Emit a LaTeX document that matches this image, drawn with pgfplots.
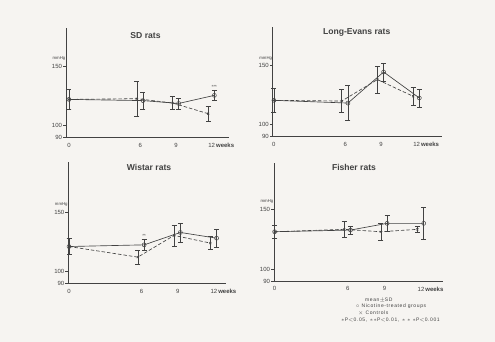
\documentclass[border=0pt]{standalone}
\usepackage{fontspec}
\setmainfont{Liberation Sans}
\newfontfamily\spaced[LetterSpace=12]{Liberation Sans}
\usepackage{pgfplots}
\pgfplotsset{compat=1.18}

\definecolor{ink}{RGB}{66,66,66}
\definecolor{paper}{RGB}{246,244,241}

% blood pressure (mmHg, mean +- SD); controls plotted slightly left of the
% week, nicotine-treated groups slightly right
\pgfplotstableread{
x     y      e
0     122.0  8.4
5.7   122.6  15.0
8.7   119.0  5.3
11.7  110.0  6.0
}\sdctrl
\pgfplotstableread{
x     y      e
0     122.0  8.4
6.22  121.0  7.0
9.22  118.6  4.5
12.22 125.4  4.0
}\sdnic
\pgfplotstableread{
x     y      e
0     120.5  9.8
5.7   119.9  9.6
8.7   138.0  11.2
11.7  123.9  7.4
}\lectrl
\pgfplotstableread{
x     y      e
0     120.5  9.8
6.22  118.2  14.8
9.22  144.4  7.7
12.22 122.5  7.6
}\lenic
\pgfplotstableread{
x     y      e
0     121.1  6.6
5.7   112.2  5.6
8.7   130.4  8.7
11.7  124.0  5.6
}\wictrl
\pgfplotstableread{
x     y      e
0     121.1  6.6
6.22  122.5  4.5
9.22  132.9  8.1
12.22 128.1  7.8
}\winic
\pgfplotstableread{
x     y      e
0     131.3  5.3
5.7   133.3  6.4
8.7   131.3  7.4
11.7  133.3  2.2
}\fictrl
\pgfplotstableread{
x     y      e
0     131.3  5.3
6.22  132.7  3.5
9.22  138.3  6.4
12.22 138.3  13.2
}\finic

\pgfplotsset{
  ratpanel/.style={
    scale only axis, anchor=south west, clip=false,
    ymin=90,
    axis x line=bottom, axis y line=left,
    axis line style={-, ink, line width=1pt},
    xtick={0,6,9,12},
    xticklabels={0,6,9,{12\rlap{\,\textbf{weeks}}}},
    ytick={90,100,150},
    tick align=outside, major tick length=2.8pt,
    xtick style={draw=none},
    ytick style={ink, line width=0.6pt},
    tick label style={font=\fontsize{6}{7}\selectfont, text=ink},
    yticklabel style={inner xsep=1pt},
    xticklabel style={inner ysep=2.5pt},
    /pgf/number format/assume math mode=true,
  },
  ctrl/.style={ink, line width=0.65pt, dash pattern=on 3.5pt off 2pt,
    mark=x, mark size=1.4pt, mark options={solid, line width=0.6pt},
    error bars/.cd, y dir=both, y explicit,
    error bar style={ink, line width=0.5pt, solid},
    error mark options={rotate=90, mark size=2.5pt, ink, line width=0.5pt, solid}},
  nic/.style={ink, line width=0.65pt,
    mark=o, mark size=2pt, mark options={fill=paper, line width=0.5pt},
    error bars/.cd, y dir=both, y explicit,
    error bar style={ink, line width=0.5pt},
    error mark options={rotate=90, mark size=2.5pt, ink, line width=0.5pt}},
}

\newcommand\mmhg{\node[anchor=south east, inner sep=0.5pt, text=ink,
  font=\fontsize{4.3}{5}\selectfont] at (axis cs:\pgfkeysvalueof{/pgfplots/xmin},154) {mmHg};}

\begin{document}
\begin{tikzpicture}
\fill[paper] (0pt,0pt) rectangle (495pt,342pt);

% SD rats
\begin{axis}[ratpanel, at={(66pt,204.5pt)}, width=163pt, height=109.5pt,
  xmin=-0.25, xmax=13.45, ymax=182]
  \addplot[ctrl] table[x=x, y=y, y error=e] {\sdctrl};
  \addplot[nic] table[x=x, y=y, y error=e] {\sdnic};
  \mmhg
  \node[text=ink, font=\fontsize{4.5}{5}\selectfont, inner sep=0pt] at (axis cs:12.22,132.3) {***};
\end{axis}

% Long-Evans rats
\begin{axis}[ratpanel, at={(272.7pt,205.5pt)}, width=169pt, height=109.8pt,
  xmin=-0.1, xmax=14.1, ymax=182.6]
  \addplot[ctrl] table[x=x, y=y, y error=e] {\lectrl};
  \addplot[nic] table[x=x, y=y, y error=e] {\lenic};
  \mmhg
\end{axis}

% Wistar rats
\begin{axis}[ratpanel, at={(68.3pt,58.4pt)}, width=157.7pt, height=121.6pt,
  xmin=-0.06, xmax=13.0, ymax=192]
  \addplot[ctrl] table[x=x, y=y, y error=e] {\wictrl};
  \addplot[nic] table[x=x, y=y, y error=e] {\winic};
  \mmhg
  \node[text=ink, font=\fontsize{4.5}{5}\selectfont, inner sep=0pt] at (axis cs:6.22,129.8) {**};
\end{axis}

% Fisher rats
\begin{axis}[ratpanel, at={(274pt,60.7pt)}, width=169pt, height=118.3pt,
  xmin=-0.05, xmax=13.8, ymax=188.6]
  \addplot[ctrl] table[x=x, y=y, y error=e] {\fictrl};
  \addplot[nic] table[x=x, y=y, y error=e] {\finic};
  \mmhg
\end{axis}

% panel titles
\begin{scope}[every node/.style={text=ink, font=\fontsize{8.6}{10}\selectfont\bfseries}]
  \node at (145.5pt,306.3pt) {SD rats};
  \node at (356.7pt,309.7pt) {Long-Evans rats};
  \node at (149pt,175pt) {Wistar rats};
  \node at (354pt,175pt) {Fisher rats};
\end{scope}

% key
\begin{scope}[every node/.style={text=ink, inner sep=0pt, anchor=west,
    font=\spaced\fontsize{5}{6}\selectfont}]
  \node at (365pt,41.7pt) {mean$\pm$SD};
  \node at (355.7pt,35.7pt) {$\circ$ Nicotine-treated groups};
  \node at (358pt,28.7pt) {$\times$ Controls};
  \node at (341pt,22pt) {$\ast$P$<$0.05,\enspace $\ast\ast$P$<$0.01,\enspace $\ast\ast\ast$P$<$0.001};
\end{scope}
\end{tikzpicture}
\end{document}
